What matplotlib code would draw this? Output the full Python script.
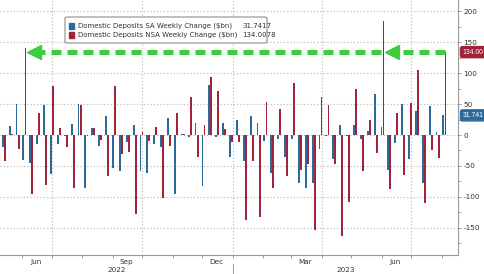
import matplotlib
matplotlib.use("Agg")
import matplotlib.pyplot as plt
import matplotlib.dates as mdates
import matplotlib.transforms as mtransforms
from matplotlib.patches import FancyBboxPatch, Rectangle
import pandas as pd
import numpy as np

plt.rcParams['font.family'] = ['DejaVu Sans']

# ---------------- data ----------------
first_week = "2022-05-13"
n_weeks = 65
sa_label = "Domestic Deposits SA Weekly Change ($bn)"
nsa_label = "Domestic Deposits NSA Weekly Change ($bn)"
sa_last = "31.7417"
nsa_last = "134.0078"
sa_tag = "31.741"
nsa_tag = "134.00"

sa = [-19, 15, 50, -40, -46, -15, 49, -63, -15, -2, 18,
      50, -85, 12, -17, 31, -54, -58, -12, 17, -58, -62,
      -15, -19, 27, -96, 2, -4, 19, -83, 81, -3, 19,
      -35, 24, -42, 30, 19, -10, -62, -7, -35, -7, -77,
      -85, -78, -23, -2, -38, 17, -2, 17, -7, 7, 67,
      13, -56, -13, 50, -38, 39, -78, 47, 5, 31.7417]
nsa = [-42, 1, -23, 140, -96, 35, -81, 80, 12, -19, -85,
       48, -1, 12, -8, -66, 80, -31, -27, -127, 5, -10,
       13, -102, -18, 35, 2, 62, -35, 16, 93, 71, 10,
       -11, -12, -138, -42, -132, 54, -86, 42, -66, 84, -57,
       -47, -154, 61, 49, -47, -163, -108, 74, -58, 24, -29,
       185, -88, 35, -64, 51, 105, -110, -25, -37, 134.0078]

month_labels = ["Jun", "Sep", "Dec", "Mar", "Jun"]
year_labels = ["2022", "2023"]
yticks = [-150, -100, -50, 0, 50, 100, 150, 200]

# ---------------- style ----------------
BLUE = "#2d6a9c"
RED = "#a0233a"
GREEN = "#3ccc3c"
GRID = "#b4b4b4"
AXC = "#9a9a9a"
TXT = "#333333"

W, H = 485, 274
fig = plt.figure(figsize=(W / 100, H / 100), dpi=100)
fig.patch.set_facecolor("white")
ax = fig.add_axes([0, 19 / H, 458 / W, 255 / H])

dates = pd.date_range(first_week, periods=n_weeks, freq="7D")
xd = mdates.date2num(dates)

ax.bar(xd - 1.05, sa, width=1.9, color=BLUE, zorder=3, linewidth=0)
ax.bar(xd + 1.05, nsa, width=1.9, color=RED, zorder=3, linewidth=0)

ref = mdates.date2num(pd.Timestamp("2022-07-01"))
pxday = 0.9836
ax.set_xlim(ref - 52 / pxday, ref + 406 / pxday)
ax.set_ylim(-194.0, 218.3)

# grid
for v in yticks:
    ax.axhline(v, color=GRID, lw=0.8, ls=(0, (1, 2)), zorder=1)
qstarts = mdates.date2num(pd.date_range("2022-07-01", "2023-07-01", freq="QS"))
for q in qstarts:
    ax.axvline(q, color=GRID, lw=0.8, ls=(0, (1, 2)), zorder=1)

# spines
for s in ["left", "top"]:
    ax.spines[s].set_visible(False)
for s in ["right", "bottom"]:
    ax.spines[s].set_color(AXC)
    ax.spines[s].set_linewidth(0.8)

# y axis on right
ax.yaxis.tick_right()
ax.set_yticks(yticks)
ax.set_yticklabels([str(v) for v in yticks])
ax.yaxis.set_minor_locator(matplotlib.ticker.MultipleLocator(25))
ax.tick_params(axis="y", which="major", length=2.5, width=0.7, color=AXC,
               labelsize=5.2, labelcolor=TXT, pad=1.5)
ax.tick_params(axis="y", which="minor", length=2.0, width=0.6, color=AXC)

# x axis: month-start ticks, mid-month labels
ax.xaxis.set_minor_locator(mdates.MonthLocator())
ax.xaxis.set_major_locator(mdates.MonthLocator(bymonth=[3, 6, 9, 12], bymonthday=15))
ax.xaxis.set_major_formatter(matplotlib.ticker.FixedFormatter(month_labels))
ax.tick_params(axis="x", which="major", length=0, labelsize=5.2, labelcolor=TXT, pad=3)
ax.tick_params(axis="x", which="minor", length=2.5, width=0.7, color=AXC)

# year labels + separator
jan1 = mdates.date2num(pd.Timestamp("2023-01-01"))
bt = mtransforms.blended_transform_factory(ax.transData, ax.transAxes)
ax.plot([jan1, jan1], [-0.035, -0.08], transform=bt, color=AXC, lw=0.7, clip_on=False)
x0, x1 = ax.get_xlim()
ax.text((x0 + jan1) / 2, -0.059, year_labels[0], transform=bt, ha="center", va="center",
        fontsize=5.2, color=TXT)
ax.text((jan1 + x1) / 2, -0.059, year_labels[1], transform=bt, ha="center", va="center",
        fontsize=5.2, color=TXT)

# green dashed arrows at the level of the latest NSA value
lvl = nsa[-1]
big_i = int(np.argmax(nsa))
early_i = int(np.argmax(nsa[:10]))
dash = dict(color=GREEN, lw=3.6, solid_capstyle="butt", dash_capstyle="butt", zorder=5)
ax.plot([xd[-1] + 1, xd[big_i] + 9], [lvl, lvl], ls=(0, (2.0, 1.2)), **dash)
ax.plot([xd[big_i] + 10], [lvl], marker="<", ms=10, color=GREEN, mec=GREEN, zorder=5)
ax.plot([xd[big_i] - 1.5, xd[early_i] + 9], [lvl, lvl], ls=(0, (2.0, 1.2)), **dash)
ax.plot([xd[early_i] + 10], [lvl], marker="<", ms=10, color=GREEN, mec=GREEN, zorder=5)

# value tags on the right axis (visible part of the label, as in the source)
rt = mtransforms.blended_transform_factory(ax.transAxes, ax.transData)
tag_kw = dict(transform=rt, ha="left", va="center", fontsize=4.9, color="white",
              clip_on=False, zorder=6, family=["Liberation Sans", "DejaVu Sans"])
ax.text(1 + 4.5 / 458, nsa[-1], nsa_tag,
        bbox=dict(boxstyle="round,pad=0.3,rounding_size=0.3", fc=RED, ec=RED), **tag_kw)
ax.text(1 + 4.5 / 458, sa[-1], sa_tag,
        bbox=dict(boxstyle="round,pad=0.3,rounding_size=0.3", fc=BLUE, ec=BLUE), **tag_kw)

# legend (manual, Bloomberg style)
def fx(px):
    return px / W

def fy(py):
    return 1 - py / H

box = FancyBboxPatch((fx(65), fy(43)), fx(202), 26 / H,
                     boxstyle="round,pad=0,rounding_size=0.006",
                     transform=fig.transFigure, fc="white", ec="#8c8c8c", lw=0.8, zorder=10)
fig.patches.append(box)
for row, (col, lab, val) in enumerate([(BLUE, sa_label, sa_last), (RED, nsa_label, nsa_last)]):
    cy = 26 + row * 9
    fig.patches.append(Rectangle((fx(69), fy(cy + 2.6)), fx(5.2), 5.2 / H,
                                 transform=fig.transFigure, fc=col, ec=col, zorder=11))
    fig.text(fx(78), fy(cy), lab, ha="left", va="center", fontsize=5.0, color=TXT, zorder=11)
    fig.text(fx(242), fy(cy), val, ha="left", va="center", fontsize=5.0, color=TXT, zorder=11)

fig.savefig("out.png", dpi=100)
